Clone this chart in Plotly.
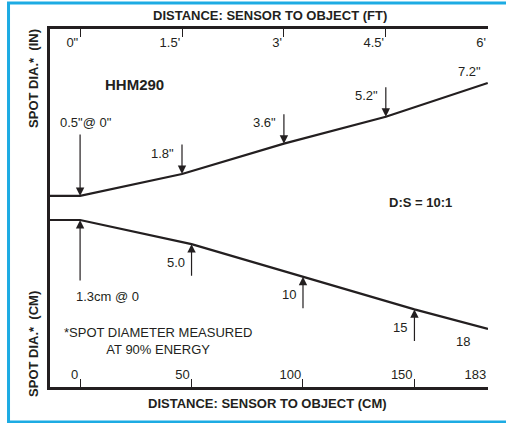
import plotly.graph_objects as go

# ---------------- data ----------------
CM_PER_FT = 30.48
DIST_FT = [0, 1.5, 3, 4.5, 6]
FT_TICK_TEXT = ['0"', "1.5'", "3'", "4.5'", "6'"]
SPOT_IN = [0.5, 1.8, 3.6, 5.2, 7.2]
SPOT_IN_LABELS = ['0.5"@ 0"', '1.8"', '3.6"', '5.2"', '7.2"']

DIST_CM = [0, 50, 100, 150, 183]
CM_TICK_TEXT = ["0", "50", "100", "150", "183"]
SPOT_CM = [1.3, 5.0, 10, 15, 18]
SPOT_CM_LABELS = ["1.3cm @ 0", "5.0", "10", "15", "18"]

# ---------------- style ----------------
INK = "#231f20"
BLUE = "#1dabe3"
FONT = "Liberation Sans, Arial, sans-serif"
X_RANGE_CM = [-13.5, 183]
X_RANGE_FT = [v / CM_PER_FT for v in X_RANGE_CM]
Y_RANGE_IN = [-10.83, 10.40]
Y_RANGE_CM = [26.89, -27.96]

fig = go.Figure()

# lower edge of the spot cone (cm)
fig.add_trace(go.Scatter(
    x=[X_RANGE_CM[0]] + DIST_CM, y=[SPOT_CM[0]] + SPOT_CM,
    xaxis="x", yaxis="y", mode="lines",
    line=dict(color=INK, width=2.2), hoverinfo="skip", showlegend=False))

# upper edge of the spot cone (inches vs feet)
fig.add_trace(go.Scatter(
    x=[X_RANGE_FT[0]] + DIST_FT, y=[SPOT_IN[0]] + SPOT_IN,
    xaxis="x2", yaxis="y2", mode="lines",
    line=dict(color=INK, width=2.2), hoverinfo="skip", showlegend=False))

ann = []
txt = dict(family=FONT, size=13, color=INK)
arrow = dict(showarrow=True, arrowhead=2, arrowsize=1.4, arrowwidth=1.2,
             arrowcolor=INK, ax=0, text="")

for i, (d, v, lab) in enumerate(zip(DIST_FT, SPOT_IN, SPOT_IN_LABELS)):
    ref = dict(x=d, y=v, xref="x2", yref="y2")
    if i == len(DIST_FT) - 1:
        ann.append(dict(**ref, text=lab, showarrow=False, xanchor="right",
                        yanchor="middle", xshift=-5, yshift=11, font=txt))
        continue
    length = 63 if i == 0 else 31
    ann.append(dict(**ref, ay=-length, **arrow))
    if i == 0:
        ann.append(dict(**ref, text=lab, showarrow=False, xanchor="center",
                        yanchor="middle", xshift=6, yshift=73, font=txt))
    else:
        ann.append(dict(**ref, text=lab, showarrow=False, xanchor="right",
                        yanchor="middle", xshift=-6, yshift=21, font=txt))

for i, (d, v, lab) in enumerate(zip(DIST_CM, SPOT_CM, SPOT_CM_LABELS)):
    ref = dict(x=d, y=v, xref="x", yref="y")
    if i == len(DIST_CM) - 1:
        ann.append(dict(**ref, text=lab, showarrow=False, xanchor="center",
                        yanchor="middle", xshift=-25, yshift=-13, font=txt))
        continue
    length = 62 if i == 0 else 33
    ann.append(dict(**ref, ay=length, **arrow))
    if i == 0:
        ann.append(dict(**ref, text=lab, showarrow=False, xanchor="left",
                        yanchor="middle", xshift=-6, yshift=-77, font=txt))
    else:
        ann.append(dict(**ref, text=lab, showarrow=False, xanchor="right",
                        yanchor="middle", xshift=-5, yshift=-18, font=txt))

bold13 = dict(family=FONT, size=13, color=INK)
ann += [
    dict(x=0.502, y=1.039, xref="paper", yref="paper", showarrow=False,
         text="<b>DISTANCE: SENSOR TO OBJECT (FT)</b>", font=bold13,
         xanchor="center", yanchor="middle"),
    dict(x=0.497, y=-0.045, xref="paper", yref="paper", showarrow=False,
         text="<b>DISTANCE: SENSOR TO OBJECT (CM)</b>", font=bold13,
         xanchor="center", yanchor="middle"),
    dict(x=-0.039, y=0.863, xref="paper", yref="paper", showarrow=False,
         text="<b>SPOT DIA.*\u00a0\u00a0(IN)</b>", font=bold13, textangle=-90,
         xanchor="center", yanchor="middle"),
    dict(x=-0.039, y=0.120, xref="paper", yref="paper", showarrow=False,
         text="<b>SPOT DIA.*\u00a0\u00a0(CM)</b>", font=bold13, textangle=-90,
         xanchor="center", yanchor="middle"),
    dict(x=0.194, y=0.846, xref="paper", yref="paper", showarrow=False,
         text="<b>HHM290</b>", font=dict(family=FONT, size=15, color=INK),
         xanchor="center", yanchor="middle"),
    dict(x=0.847, y=0.514, xref="paper", yref="paper", showarrow=False,
         text="<b>D:S = 10:1</b>", font=bold13, xanchor="center", yanchor="middle"),
    dict(x=0.2466, y=0.1285, xref="paper", yref="paper", showarrow=False,
         text="*SPOT DIAMETER MEASURED<br>AT 90% ENERGY", font=txt,
         xanchor="center", yanchor="middle", align="center"),
]

axis_common = dict(showgrid=False, zeroline=False, showline=True, linecolor=INK,
                   linewidth=2.5, ticks="inside", ticklen=8, tickwidth=1.2,
                   tickcolor=INK, ticklabelposition="inside left",
                   tickfont=dict(family=FONT, size=13, color=INK))

# outer blue frame; its right side lies beyond the page edge
FRAME_L, FRAME_R, FRAME_T, FRAME_B = -0.0947, 1.4, 1.0726, -0.0978

fig.update_layout(
    width=506, height=423,
    margin=dict(l=50, r=18, t=29, b=36),
    paper_bgcolor="white", plot_bgcolor="white",
    xaxis=dict(range=X_RANGE_CM, tickmode="array", tickvals=DIST_CM,
               ticktext=CM_TICK_TEXT, side="bottom", ticklabelstandoff=2,
               **axis_common),
    xaxis2=dict(range=X_RANGE_FT, tickmode="array", tickvals=DIST_FT,
                ticktext=FT_TICK_TEXT, side="top", overlaying="x",
                ticklabelstandoff=6, **axis_common),
    yaxis=dict(range=Y_RANGE_CM, showgrid=False, zeroline=False, showline=True,
               linecolor=INK, linewidth=2.5, showticklabels=False, ticks=""),
    yaxis2=dict(range=Y_RANGE_IN, overlaying="y", side="left", showgrid=False,
                zeroline=False, showline=False, showticklabels=False, ticks=""),
    annotations=ann,
    shapes=[dict(type="rect", xref="paper", yref="paper",
                 x0=FRAME_L, x1=FRAME_R, y0=FRAME_B, y1=FRAME_T,
                 line=dict(color=BLUE, width=3), fillcolor="rgba(0,0,0,0)")],
    showlegend=False,
)

fig.write_html("out.html", config={"displayModeBar": False},
               post_script="document.body.style.margin='0';document.body.style.overflow='hidden';")
